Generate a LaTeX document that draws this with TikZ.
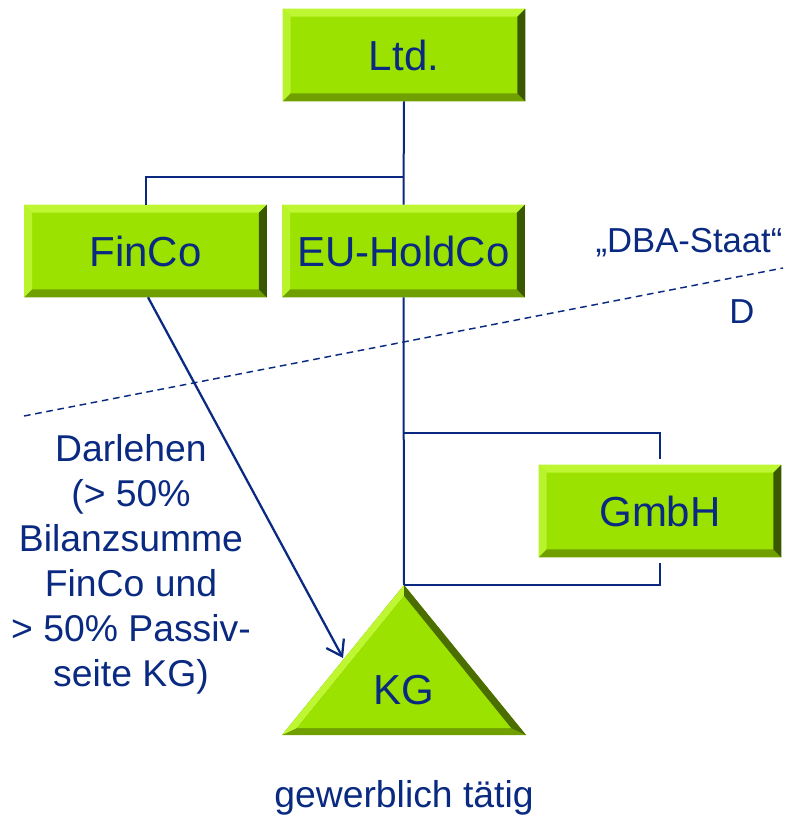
\documentclass[tikz,border=0pt]{standalone}
\usepackage{fontspec}
\setmainfont{Liberation Sans}
\usetikzlibrary{arrows.meta}
\definecolor{navy}{RGB}{10,42,130}
\definecolor{gmain}{RGB}{155,226,0}
\definecolor{glight}{RGB}{190,246,50}
\definecolor{gdark}{RGB}{112,160,0}
\definecolor{gdarkest}{RGB}{58,88,0}
\tikzset{
  entity/.style={rectangle, fill=gmain, minimum width=181.5pt, minimum height=69pt, inner sep=0pt,
    text=navy, font=\fontsize{31}{37}\selectfont},
  etext/.style={text=navy, font=\fontsize{31.5}{37}\selectfont},
  conn/.style={draw=navy, line width=1.5pt},
  lbl/.style={text=navy, font=\fontsize{26}{33.75}\selectfont, align=center, inner sep=0pt},
  biglbl/.style={text=navy, font=\fontsize{28}{33.75}\selectfont, align=center, inner sep=0pt},
}
\newcommand{\bevelit}[1]{%
  \fill[glight] (#1.north west) -- (#1.north east) -- ([xshift=-6pt,yshift=-6pt]#1.north east) -- ([xshift=6pt,yshift=-6pt]#1.north west) -- cycle;
  \fill[glight!85!gmain] (#1.north west) -- ([xshift=6pt,yshift=-6pt]#1.north west) -- ([xshift=6pt,yshift=6pt]#1.south west) -- (#1.south west) -- cycle;
  \fill[gdark] (#1.south west) -- (#1.south east) -- ([xshift=-6pt,yshift=6pt]#1.south east) -- ([xshift=6pt,yshift=6pt]#1.south west) -- cycle;
  \fill[gdarkest] (#1.north east) -- (#1.south east) -- ([xshift=-6pt,yshift=6pt]#1.south east) -- ([xshift=-6pt,yshift=-6pt]#1.north east) -- cycle;
}
\begin{document}
\begin{tikzpicture}[x=0.75pt,y=-0.75pt]
\useasboundingbox (0,0) rectangle (807,815);
% boxes
\node[entity] (ltd) at (404,55) {};
\node[entity] (finco) at (145.5,251) {};
\node[entity] (eu) at (403.5,251) {};
\node[entity] (gmbh) at (660,511) {};
\bevelit{ltd}\bevelit{finco}\bevelit{eu}\bevelit{gmbh}
\node[etext] at (ltd) {Ltd.};
\node[etext] at (finco) {FinCo};
\node[etext] at (eu) {EU-HoldCo};
\node[etext] at (gmbh) {GmbH};
% triangle KG
\coordinate (kgtop) at (404,585);
\coordinate (kgl) at (282,735);
\coordinate (kgr) at (526,735);
\coordinate (kgit) at (404,596);
\coordinate (kgil) at (297,728);
\coordinate (kgir) at (511,728);
\fill[gdark] (kgtop) -- (kgl) -- (kgr) -- cycle;
\fill[glight] (kgtop) -- (kgl) -- (kgil) -- (kgit) -- cycle;
\fill[gdarkest!70!gdark] (kgtop) -- (kgit) -- (kgir) -- (kgr) -- cycle;
\fill[gmain] (kgit) -- (kgil) -- (kgir) -- cycle;
\node[etext] (kg) at (404,690) {KG};
% connectors
\coordinate (j1) at (404,177);
\coordinate (j2) at (404,433);
\draw[conn] (ltd.south) -- (eu.north);
\draw[conn] (finco.north) |- (j1);
\draw[conn] (eu.south) -- (kgtop);
\draw[conn, shorten >=4pt] (j2) -| (gmbh.north);
\draw[conn, shorten <=4pt] (gmbh.south) |- (kgtop);
% arrow
\coordinate (kgin) at (343,658);
\draw[draw=navy, line width=1.7pt, -{Straight Barb[length=11pt,width=15pt,line width=1.7pt]}] (finco.south) ++(2.5,0) -- (kgin);
% dashed border
\coordinate (dl) at (24,416);
\coordinate (dr) at (783,268);
\draw[navy, line width=1.1pt, dash pattern=on 5pt off 3.5pt] (dl) -- (dr);
% labels
\node[lbl] (dba) at (689,243) {„DBA-Staat“};
\node[lbl] (d) at (742,312) {D};
\node[biglbl] (darl) at (131,564) {Darlehen\\(> 50\%\\Bilanzsumme\\FinCo und\\> 50\% Passiv-\\seite KG)};
\node[biglbl] (gew) at (404,798) {gewerblich tätig};
\end{tikzpicture}
\end{document}
